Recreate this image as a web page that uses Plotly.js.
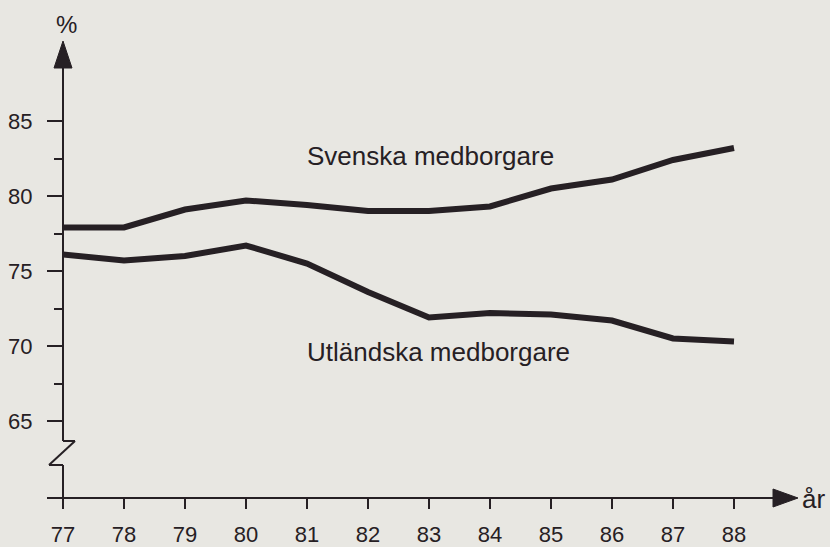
<!DOCTYPE html>
<html>
<head>
<meta charset="utf-8">
<script src="https://cdn.plot.ly/plotly-3.0.1.min.js"></script>
<style>
  html, body { margin: 0; padding: 0; background: #e8e7e2; }
  #chart { width: 830px; height: 547px; }
</style>
</head>
<body>
<div id="chart"></div>
<script>
// ---- data ----
var years = [77, 78, 79, 80, 81, 82, 83, 84, 85, 86, 87, 88];
var svenska = [77.9, 77.9, 79.1, 79.7, 79.4, 79.0, 79.0, 79.3, 80.5, 81.1, 82.4, 83.2];
var utlandska = [76.1, 75.7, 76.0, 76.7, 75.5, 73.6, 71.9, 72.2, 72.1, 71.7, 70.5, 70.3];
var yMajorTicks = [65, 70, 75, 80, 85];
var yMinorTicks = [67.5, 72.5, 77.5, 82.5];
var seriesNames = ['Svenska medborgare', 'Utländska medborgare'];
var yUnit = '%';
var xUnit = 'år';

// ---- layout geometry (pixels) ----
var W = 830, H = 547;
var L = 63, R = 30, T = 67, B = 49;
var PW = W - L - R, PH = H - T - B;
var bottomPx = H - B;
function px(x) { return (x - L) / PW; }
function py(y) { return (bottomPx - y) / PH; }

var ink = '#262024';
var font = 'Liberation Sans, Arial, Helvetica, sans-serif';

var lineStyle = { color: ink, width: 6 };
var traces = [
  { x: years, y: svenska, name: seriesNames[0], type: 'scatter', mode: 'lines', line: lineStyle, hoverinfo: 'x+y' },
  { x: years, y: utlandska, name: seriesNames[1], type: 'scatter', mode: 'lines', line: lineStyle, hoverinfo: 'x+y' }
];

function seg(x0, y0, x1, y1) {
  return { type: 'line', xref: 'paper', yref: 'paper', x0: px(x0), y0: py(y0), x1: px(x1), y1: py(y1),
           line: { color: ink, width: 2 } };
}
function tri(pts) {
  var d = 'M ' + pts.map(function (p) { return px(p[0]) + ',' + py(p[1]); }).join(' L ') + ' Z';
  return { type: 'path', xref: 'paper', yref: 'paper', path: d, fillcolor: ink, line: { color: ink, width: 1 } };
}

var shapes = [
  // y axis with break
  seg(63, 67, 63, 441),
  seg(63, 441, 75, 441),
  seg(75, 441, 49, 465),
  seg(49, 465, 63, 465),
  seg(63, 465, 63, 498),
  // y arrow
  tri([[54, 68], [72, 68], [63, 41]]),
  // x axis
  seg(47, 498, 774, 498),
  tri([[773, 489], [773, 507], [798, 498]])
];

var layout = {
  width: W, height: H,
  margin: { l: L, r: R, t: T, b: B, pad: 0 },
  paper_bgcolor: '#e8e7e2',
  plot_bgcolor: '#e8e7e2',
  showlegend: false,
  font: { family: font, color: ink },
  xaxis: {
    range: [77, 77 + PW / 61],
    tickmode: 'array', tickvals: years, ticktext: years.map(String),
    ticks: 'outside', ticklen: 10, tickwidth: 2, tickcolor: ink,
    showline: false, showgrid: false, zeroline: false,
    tickfont: { family: font, size: 22, color: ink },
    ticklabelstandoff: 7,
    fixedrange: true
  },
  yaxis: {
    range: [85 - (bottomPx - 121) / 15, 85 + (121 - T) / 15],
    tickmode: 'array', tickvals: yMajorTicks, ticktext: yMajorTicks.map(String),
    ticks: 'outside', ticklen: 15, tickwidth: 2, tickcolor: ink,
    minor: { tickmode: 'array', tickvals: yMinorTicks, ticks: 'outside', ticklen: 8, tickwidth: 2, tickcolor: ink },
    showline: false, showgrid: false, zeroline: false,
    tickfont: { family: font, size: 22, color: ink },
    ticklabelstandoff: 10,
    fixedrange: true
  },
  shapes: shapes,
  annotations: [
    { xref: 'x', yref: 'y', x: 77 + (305 - L) / 61, y: 85 - (156 - 121) / 15, text: seriesNames[0],
      showarrow: false, xanchor: 'left', yanchor: 'middle', font: { family: font, size: 26, color: ink } },
    { xref: 'x', yref: 'y', x: 77 + (305 - L) / 61, y: 85 - (352 - 121) / 15, text: seriesNames[1],
      showarrow: false, xanchor: 'left', yanchor: 'middle', font: { family: font, size: 26, color: ink } },
    { xref: 'paper', yref: 'paper', x: px(66), y: py(25), text: yUnit,
      showarrow: false, xanchor: 'center', yanchor: 'middle', font: { family: font, size: 24, color: ink } },
    { xref: 'paper', yref: 'paper', x: px(800), y: py(499), text: xUnit,
      showarrow: false, xanchor: 'left', yanchor: 'middle', font: { family: font, size: 26, color: ink } }
  ]
};

Plotly.newPlot('chart', traces, layout, { displayModeBar: false, staticPlot: true });
</script>
</body>
</html>
